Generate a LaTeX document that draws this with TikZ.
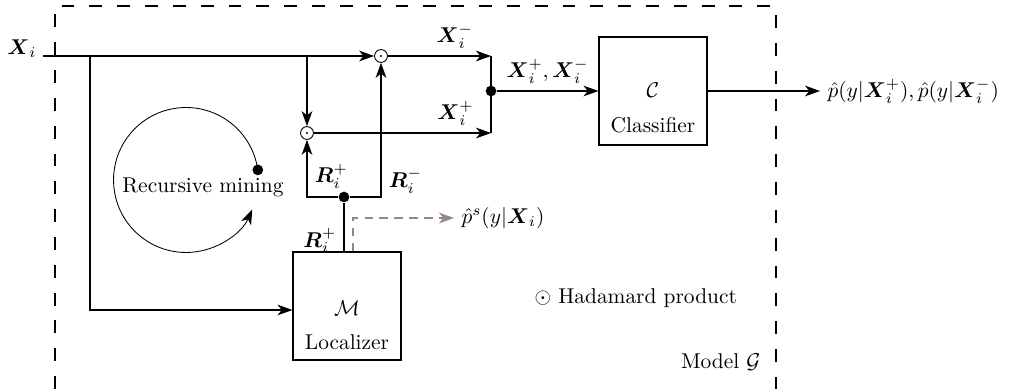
\documentclass[tikz,border=0pt]{standalone}
\usepackage{xcolor}
\usepackage{amsmath}
\usepackage{tikz}
\usetikzlibrary{arrows.meta, positioning, calc}
\definecolor{probegray}{RGB}{150,135,135}

\begin{document}
\begin{tikzpicture}[
      x=0.01642cm, y=-0.01642cm,
      >={Stealth[length=7pt, width=5pt, inset=2pt]},
      box/.style={draw, semithick, rectangle, minimum width=1.77cm, minimum height=1.77cm},
      hada/.style={draw, circle, thin, inner sep=0pt, minimum size=6pt,
                   path picture={\fill (path picture bounding box.center) circle (0.55pt);}},
      junc/.style={circle, fill, inner sep=0pt, minimum size=5pt},
      arr/.style={->, semithick},
      line/.style={semithick},
      frame/.style={semithick, dash pattern=on 6pt off 7pt},
      probe/.style={->, semithick, probegray, dash pattern=on 4pt off 3pt}
    ]
      \useasboundingbox (0,0) rectangle (1016,389);
      % model frame
      \draw[frame] (55,389) -- (55,6) -- (776,6) -- (776,389);
      \node[left] (model) at (768,362) {Model $\mathcal{G}$};
      % input and products
      \node (xi) at (22,49) {$\boldsymbol{X}_i$};
      \coordinate (in) at (43,56);
      \coordinate (s1) at (90,56);
      \coordinate (s2) at (307,56);
      \node[hada] (o1) at (381,56) {};
      \node[hada] (o2) at (307,133) {};
      \coordinate (mt) at (491,56);
      \coordinate (mb) at (491,133);
      \node[junc] (jx) at (491,91) {};
      % classifier
      \node[box] (cls) at (653,91) {};
      \node (clssym) at (653,90) {$\mathcal{C}$};
      \node (clstxt) at (653,125) {Classifier};
      \node[right] (pout) at (820,91) {$\hat{p}(y|\boldsymbol{X}_i^+), \hat{p}(y|\boldsymbol{X}_i^-)$};
      % localizer
      \node[box] (loc) at (347,306) {};
      \node (locsym) at (347,308) {$\mathcal{M}$};
      \node (loctxt) at (347,342) {Localizer};
      \node[junc] (jr) at (344,197) {};
      \node[right] (ps) at (454,218) {$\hat{p}^s(y|\boldsymbol{X}_i)$};
      % recursive mining
      \node (rec) at (203,187) {Recursive mining};
      \node[junc] (rdot) at (257.8,169.9) {};
      \draw[->, thin] (rdot.center) arc[start angle=8, end angle=336, radius=1.19cm];
      \node[right] (hadamard) at (527,298) {$\odot$ Hadamard product};
      % connections
      \draw[arr] (in) -- (o1);
      \draw[arr] (s2) -- (o2);
      \draw[arr] (s1) |- ($(loc.west)+(0,4)$);
      \draw[arr] (o1) -- node[above, pos=0.65] (lxm) {$\boldsymbol{X}_i^-$} (mt);
      \draw[arr] (o2) -- node[above, pos=0.8] (lxp) {$\boldsymbol{X}_i^+$} (mb);
      \draw[line] (mt) -- (mb);
      \draw[arr] (jx) -- node[above] (lxx) {$\boldsymbol{X}_i^+, \boldsymbol{X}_i^-$} (cls);
      \draw[arr] (cls) -- (pout);
      \draw[arr] (jr) -| node[pos=0.68, right] (lrp) {$\boldsymbol{R}_i^+$} (o2);
      \draw[arr] (jr) -| node[pos=0.56, right] (lrm) {$\boldsymbol{R}_i^-$} (o1);
      \draw[line] (jr |- loc.north) -- node[pos=0.22, left] (lrl) {$\boldsymbol{R}_i^+$} (jr);
      \draw[probe] ($(loc.north)+(6,0)$) |- (ps.west);
    \end{tikzpicture}
\end{document}
